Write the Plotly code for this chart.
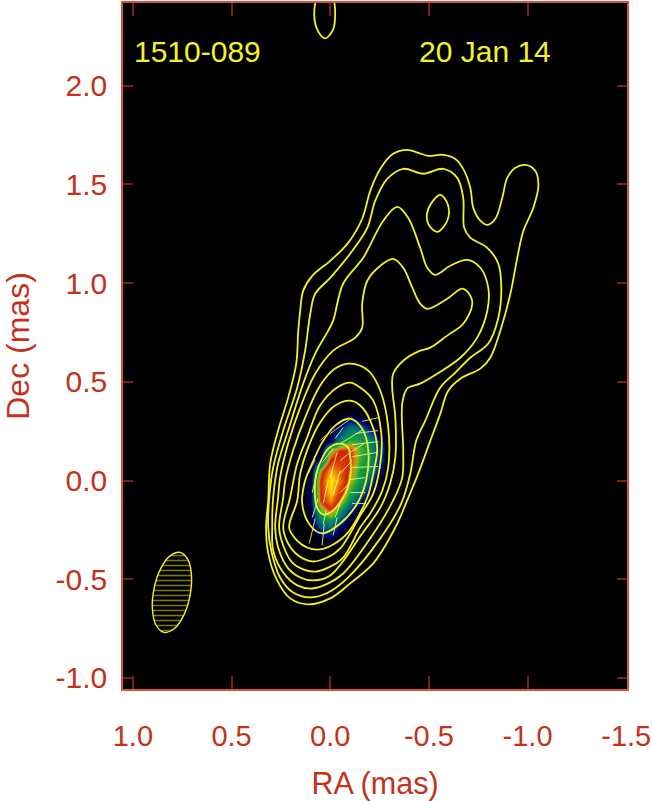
import plotly.graph_objects as go

source_name = "1510-089"
obs_date = "20 Jan 14"

x_ticks = [1.0, 0.5, 0.0, -0.5, -1.0, -1.5]
x_labels = ["1.0", "0.5", "0.0", "-0.5", "-1.0", "-1.5"]
y_ticks = [2.0, 1.5, 1.0, 0.5, 0.0, -0.5, -1.0]
y_labels = ["2.0", "1.5", "1.0", "0.5", "0.0", "-0.5", "-1.0"]

# Contours, outermost first (RA, Dec in mas)
c1_ra = [.112, .203, .269, .314, .325, .314, .304, .264, .213, .172, .162, .152, .137, .091, 0, -.091, -.162, -.203, -.254, -.319, -.390, -.446, -.497, -.573, -.634, -.674, -.710, -.725, -.761, -.796, -.837, -.872, -.897, -.938, -.989, -1.039, -1.055, -1.029, -.979, -.948, -.913, -.862, -.811, -.761, -.659, -.598, -.558, -.502, -.446, -.390, -.330, -.218, -.101, 0, .112]
c1_dec = [-.627, -.597, -.506, -.369, -.238, -.101, .086, .253, .420, .592, .759, .860, .961, 1.037, 1.113, 1.204, 1.326, 1.467, 1.579, 1.655, 1.675, 1.660, 1.645, 1.650, 1.629, 1.579, 1.483, 1.381, 1.316, 1.295, 1.326, 1.432, 1.533, 1.584, 1.599, 1.569, 1.493, 1.381, 1.265, 1.128, .946, .759, .622, .567, .516, .455, .339, .187, .035, -.101, -.238, -.420, -.521, -.597, -.627]
c2_ra = [.101, .188, .254, .299, .314, .309, .289, .238, .167, .127, .101, .076, 0, -.101, -.188, -.228, -.289, -.370, -.471, -.573, -.644, -.674, -.679, -.710, -.796, -.852, -.867, -.852, -.801, -.710, -.634, -.558, -.482, -.436, -.406, -.360, -.254, -.086, .010, .101]
c2_dec = [-.592, -.567, -.491, -.354, -.238, -.086, .066, .253, .471, .658, .845, .946, 1.027, 1.149, 1.280, 1.417, 1.528, 1.579, 1.554, 1.579, 1.533, 1.432, 1.280, 1.230, 1.179, 1.098, .977, .825, .694, .622, .547, .471, .304, .202, .035, -.116, -.293, -.496, -.567, -.592]
c3_ra = [.091, .167, .238, .289, .294, .289, .264, .213, .137, .076, .010, -.015, -.066, -.167, -.269, -.340, -.395, -.456, -.492, -.532, -.608, -.695, -.761, -.801, -.796, -.745, -.659, -.542, -.456, -.390, -.365, -.370, -.365, -.319, -.203, -.066, .010, .091]
c3_dec = [-.547, -.531, -.466, -.354, -.238, -.086, .086, .253, .491, .643, .759, .810, .998, 1.128, 1.316, 1.386, 1.331, 1.179, 1.078, 1.042, 1.088, 1.118, 1.078, .977, .860, .724, .622, .541, .491, .466, .390, .152, .015, -.101, -.293, -.471, -.521, -.547]
c4_ra = [.086, .152, .213, .264, .279, .264, .254, .213, .152, .076, -.015, -.127, -.162, -.162, -.188, -.254, -.319, -.370, -.416, -.456, -.492, -.593, -.669, -.700, -.720, -.674, -.593, -.507, -.456, -.370, -.319, -.314, -.330, -.330, -.304, -.254, -.162, 0, .086]
c4_dec = [-.506, -.491, -.445, -.339, -.238, -.086, .015, .187, .369, .541, .658, .724, .774, .896, 1.012, 1.088, 1.123, 1.078, .977, .896, .870, .921, .972, .951, .896, .794, .734, .673, .658, .607, .541, .471, .319, .116, -.015, -.137, -.268, -.481, -.506]
c5_ra = [.076, .137, .193, .238, .259, .238, .228, .188, .127, .051, -.025, -.101, -.193, -.254, -.294, -.294, -.264, -.203, -.152, -.066, .010, .076]
c5_dec = [-.461, -.450, -.415, -.329, -.238, -.086, 0, .152, .319, .481, .567, .592, .557, .455, .269, .066, -.051, -.167, -.238, -.390, -.441, -.461]
c6_ra = [.091, .162, .213, .238, .203, .167, .117, .051, -.035, -.101, -.152, -.218, -.259, -.254, -.218, -.152, -.051, .015, .091]
c6_dec = [-.410, -.380, -.319, -.238, -.086, .086, .218, .380, .471, .496, .471, .405, .238, .086, -.066, -.177, -.344, -.390, -.410]
c7_ra = [.051, .117, .177, .208, .167, .152, .112, .051, -.025, -.101, -.152, -.203, -.238, -.218, -.188, -.086, -.015, .051]
c7_dec = [-.349, -.339, -.294, -.238, -.101, .035, .167, .294, .380, .405, .380, .304, .167, .035, -.086, -.268, -.324, -.349]
c8_ra = [.041, .101, .142, .127, .101, .041, -.025, -.101, -.162, -.193, -.182, -.137, -.051, .041]
c8_dec = [-.268, -.228, -.116, 0, .066, .192, .278, .314, .263, .152, 0, -.116, -.218, -.268]
c9_ra = [.035, .066, .076, .061, .010, -.051, -.091, -.101, -.101, -.066, 0, .035]
c9_dec = [-.172, -.137, 0, .066, .162, .187, .167, .127, .015, -.086, -.162, -.172]
island_ra = [-.558, -.598, -.593, -.542, -.497, -.497, -.558]
island_dec = [1.447, 1.392, 1.316, 1.260, 1.300, 1.376, 1.447]
top_ra = [.025, .061, .081, .061, .015, -.015, -.025, -.015, .025]
top_dec = [2.240, 2.275, 2.367, 2.453, 2.478, 2.443, 2.367, 2.285, 2.240]

beam_ra = [.761, .721, .703, .711, .743, .791, .842, .882, .901, .893, .861, .813, .761]
beam_dec = [-.364, -.401, -.481, -.585, -.684, -.751, -.769, -.733, -.652, -.549, -.450, -.383, -.364]

# Core intensity
core_ra = [.15, .10, .05, 0, -.05, -.10, -.15, -.20, -.25]
core_dec = [.35, .30, .25, .20, .15, .10, .05, 0, -.05, -.10, -.15, -.20, -.25, -.30]
core_flux = [
    [0, 0, 0, 0, 0, 0, 0, 0, 0],
    [0, 0, 0, 0, .03, .10, .08, 0, 0],
    [0, 0, 0, .02, .12, .24, .24, .12, 0],
    [0, 0, 0, .05, .24, .36, .34, .26, .08],
    [0, 0, 0, .42, .56, .57, .38, .28, .10],
    [0, 0, .10, .58, .62, .58, .36, .28, .10],
    [0, 0, .46, .85, .70, .52, .32, .24, .06],
    [0, .03, .58, .98, .76, .45, .30, .16, 0],
    [0, .05, .58, .94, .64, .36, .22, .06, 0],
    [0, .05, .55, .80, .50, .26, .10, 0, 0],
    [0, .03, .36, .55, .30, .10, .02, 0, 0],
    [0, .01, .22, .28, .15, .03, 0, 0, 0],
    [0, 0, .12, .15, .05, 0, 0, 0, 0],
    [0, 0, .02, .03, 0, 0, 0, 0, 0],
]

# Polarization sticks, start and end of each
stick_ra0 = [-.162, -.127, -.111, -.111, -.111, -.101, -.101, -.111, 0, -.051, -.101, -.051, -.041, -.051, -.025, .112, .091, .051, .041, 0, .035, -.015, .106, .091, .041, -.015, .035, -.025]
stick_dec0 = [.299, .238, .182, .121, .066, .005, -.061, -.116, .238, .187, .142, .101, .025, -.061, .213, .035, -.061, .202, .091, .015, -.116, -.076, -.319, -.187, -.329, -.278, -.218, -.187]
stick_ra1 = [-.243, -.243, -.243, -.238, -.243, -.177, -.177, -.182, -.111, -.167, -.172, -.101, -.111, -.101, -.066, .076, .061, .025, -.015, -.035, .010, -.051, .076, .061, .030, -.035, .020, -.051]
stick_dec1 = [.319, .253, .197, .142, .071, .015, -.061, -.116, .319, .258, .187, .142, .101, -.010, .268, .106, .066, .228, .162, .142, 0, .051, -.192, -.091, -.218, -.187, -.152, -.116]

yellow = "#f4f02a"
red = "#c4321a"
font_name = "Liberation Sans, Arial, sans-serif"

core_colors = [
    [0.0, "#000000"], [0.06, "#00005a"], [0.14, "#004c8c"], [0.22, "#00806a"],
    [0.32, "#12a040"], [0.42, "#8cb820"], [0.48, "#e08a10"], [0.56, "#d21e08"],
    [0.70, "#e25a08"], [0.85, "#f8b008"], [1.0, "#fff800"],
]

fig = go.Figure()

fig.add_trace(go.Heatmap(x=core_ra, y=core_dec, z=core_flux, zmin=0, zmax=1, zsmooth="best",
                         colorscale=core_colors, showscale=False))

# sticks sit under the contours
stick_x = []
stick_y = []
for i in range(len(stick_ra0)):
    stick_x += [stick_ra0[i], stick_ra1[i], None]
    stick_y += [stick_dec0[i], stick_dec1[i], None]
fig.add_trace(go.Scatter(x=stick_x, y=stick_y, mode="lines",
                         line=dict(color="rgba(250,250,130,0.85)", width=1)))

contours = [(c1_ra, c1_dec), (c2_ra, c2_dec), (c3_ra, c3_dec), (c4_ra, c4_dec), (c5_ra, c5_dec),
            (c6_ra, c6_dec), (c7_ra, c7_dec), (c8_ra, c8_dec), (c9_ra, c9_dec),
            (island_ra, island_dec), (top_ra, top_dec)]
for ra, dec in contours:
    fig.add_trace(go.Scatter(x=ra, y=dec, mode="lines",
                             line=dict(color=yellow, width=1.8, shape="spline", smoothing=1)))

fig.add_trace(go.Scatter(x=beam_ra, y=beam_dec, mode="lines", fill="toself",
                         fillcolor="rgba(0,0,0,0)",
                         fillpattern=dict(shape="-", size=5, solidity=0.3, fgcolor=yellow, bgcolor="black"),
                         line=dict(color=yellow, width=1.4, shape="spline", smoothing=1)))

fig.add_annotation(x=1.005, y=2.175, text=source_name, showarrow=False, xanchor="left",
                   font=dict(family=font_name, size=30, color=yellow))
fig.add_annotation(x=-0.44, y=2.175, text=obs_date, showarrow=False, xanchor="left",
                   font=dict(family=font_name, size=30, color=yellow))

fig.update_layout(
    width=652, height=801, showlegend=False,
    margin=dict(l=123, r=25, t=1, b=112),
    paper_bgcolor="white", plot_bgcolor="black",
    font=dict(family=font_name, color=red, size=29),
)
fig.update_xaxes(
    range=[1.05, -1.504], showgrid=False, zeroline=False,
    tickmode="array", tickvals=x_ticks, ticktext=x_labels,
    ticks="inside", ticklen=13, tickwidth=1.5, tickcolor="#7c2010",
    showline=True, linecolor="#d6543a", linewidth=1.5, mirror="ticks",
    ticklabelstandoff=20,
    title=dict(text="RA (mas)", standoff=22, font=dict(size=30.5)),
)
fig.update_yaxes(
    range=[-1.056, 2.419], showgrid=False, zeroline=False,
    tickmode="array", tickvals=y_ticks, ticktext=y_labels,
    ticks="inside", ticklen=10, tickwidth=1.5, tickcolor="#7c2010",
    showline=True, linecolor="#d6543a", linewidth=1.5, mirror="ticks",
    ticklabelstandoff=8, tickfont=dict(size=30),
    title=dict(text="Dec (mas)", standoff=24, font=dict(size=32)),
)

fig.write_html("out.html", config={"displayModeBar": False}, post_script="document.body.style.margin='0';")
